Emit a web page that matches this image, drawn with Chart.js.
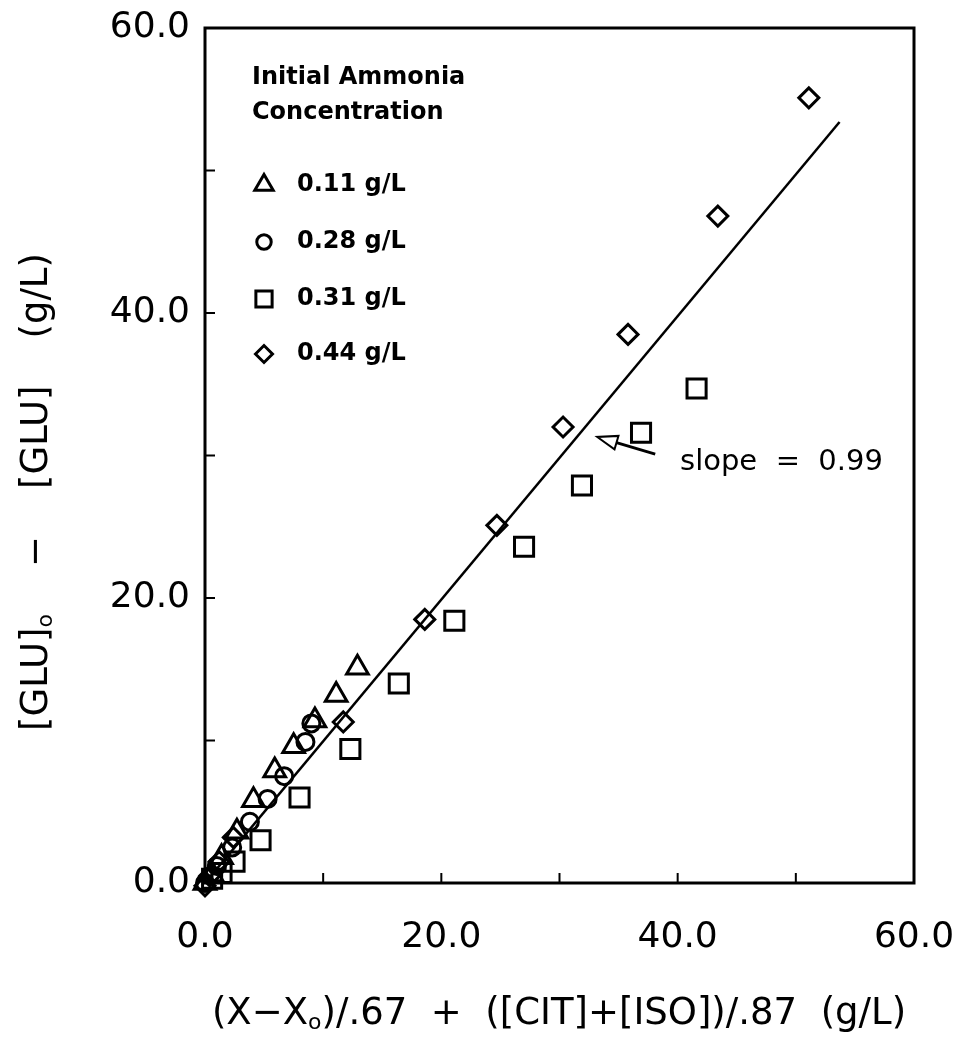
<!DOCTYPE html>
<html>
<head>
<meta charset="utf-8">
<script src="https://cdn.jsdelivr.net/npm/chart.js@4.4.1/dist/chart.umd.min.js"></script>
<style>
  html, body { margin: 0; padding: 0; background: #fff; }
  #wrap { width: 961px; height: 1047px; }
</style>
</head>
<body>
<div id="wrap"><canvas id="chart" width="961" height="1047"></canvas></div>
<script>
// legend text
const legendTitle = ["Initial Ammonia", "Concentration"];
const seriesNames = ["0.11 g/L", "0.28 g/L", "0.31 g/L", "0.44 g/L"];

// 0.11 g/L (triangles)
const triX = [12.9, 11.1, 9.3, 7.5, 5.9, 4.1, 2.7, 1.4, 0.6, 0];
const triY = [15.1, 13.2, 11.4, 9.6, 7.9, 5.8, 3.6, 1.8, 0.6, 0];

// 0.28 g/L (circles)
const cirX = [9.0, 8.5, 6.7, 5.3, 3.8, 2.3, 1.0, 0];
const cirY = [11.2, 9.9, 7.5, 5.9, 4.3, 2.5, 1.2, 0];

// 0.31 g/L (squares)
const sqX = [41.6, 36.9, 31.9, 27.0, 21.1, 16.4, 12.3, 8.0, 4.7, 2.5, 1.4, 0.6];
const sqY = [34.7, 31.6, 27.9, 23.6, 18.4, 14.0, 9.4, 6.0, 3.0, 1.5, 0.7, 0.3];

// 0.44 g/L (diamonds)
const diaX = [51.1, 43.4, 35.8, 30.3, 24.7, 18.6, 11.7, 2.4, 1.2, 0.4, 0];
const diaY = [55.1, 46.8, 38.5, 32.0, 25.1, 18.5, 11.3, 3.2, 1.5, 0.5, -0.2];

// fitted line, slope = 0.99
const fitX = [0, 53.7];
const fitY = [0, 53.4];

const xTicks = [0, 20, 40, 60];
const yTicks = [0, 20, 40, 60];
const minorTicks = [10, 20, 30, 40, 50];

const FONT = "'DejaVu Sans', sans-serif";

function pts(xs, ys) {
  return xs.map((x, i) => ({ x: x, y: ys[i] }));
}

function markerSet(label, xs, ys, style, radius) {
  return {
    type: "scatter",
    label: label,
    data: pts(xs, ys),
    pointStyle: style,
    pointRadius: radius,
    pointHoverRadius: radius,
    pointBorderWidth: 3,
    pointBorderColor: "#000",
    pointBackgroundColor: "rgba(0,0,0,0)",
    showLine: false,
    clip: false,
  };
}

const datasets = [
  markerSet(seriesNames[0], triX, triY, "triangle", 12.5),
  markerSet(seriesNames[1], cirX, cirY, "circle", 8.5),
  markerSet(seriesNames[2], sqX, sqY, "rect", 13.5),
  markerSet(seriesNames[3], diaX, diaY, "rectRot", 10),
  {
    type: "line",
    label: "fit",
    data: pts(fitX, fitY),
    borderColor: "#000",
    borderWidth: 2.5,
    pointRadius: 0,
    fill: false,
    tension: 0,
  },
];

// box, inward ticks
const framePlugin = {
  id: "frame",
  afterDraw(chart) {
    const { ctx, chartArea: a, scales } = chart;
    ctx.save();
    ctx.strokeStyle = "#000";
    ctx.lineWidth = 3;
    ctx.strokeRect(a.left, a.top, a.right - a.left, a.bottom - a.top);
    ctx.lineWidth = 2;
    ctx.beginPath();
    minorTicks.forEach((v) => {
      const px = scales.x.getPixelForValue(v);
      ctx.moveTo(px, a.bottom);
      ctx.lineTo(px, a.bottom - 10);
      const py = scales.y.getPixelForValue(v);
      ctx.moveTo(a.left, py);
      ctx.lineTo(a.left + 10, py);
    });
    ctx.stroke();
    ctx.restore();
  },
};

// legend inside plot
const legendPlugin = {
  id: "innerLegend",
  afterDraw(chart) {
    const { ctx } = chart;
    ctx.save();
    ctx.fillStyle = "#000";
    ctx.font = "bold 24px " + FONT;
    ctx.textBaseline = "middle";
    ctx.textAlign = "left";
    ctx.fillText(legendTitle[0], 252, 78);
    ctx.fillText(legendTitle[1], 252, 113);
    const rows = [185, 242, 299, 354];
    for (let i = 0; i < 4; i++) {
      const ds = chart.data.datasets[i];
      ctx.strokeStyle = "#000";
      ctx.fillStyle = "rgba(0,0,0,0)";
      ctx.lineWidth = 3;
      Chart.helpers.drawPoint(ctx, {
        pointStyle: ds.pointStyle,
        radius: ds.pointRadius * 0.85,
        rotation: 0,
        borderWidth: 3,
      }, 264, rows[i]);
      ctx.fillStyle = "#000";
      ctx.fillText(ds.label, 297, rows[i]);
    }
    ctx.restore();
  },
};

// slope note, arrow and axis titles
const notePlugin = {
  id: "notes",
  afterDraw(chart) {
    const { ctx, scales } = chart;
    const x = scales.x, y = scales.y;
    ctx.save();
    ctx.fillStyle = "#000";
    ctx.strokeStyle = "#000";

    // arrow
    const tx = x.getPixelForValue(38.1), ty = y.getPixelForValue(30.1);
    const hx = x.getPixelForValue(33.2), hy = y.getPixelForValue(31.3);
    const ang = Math.atan2(hy - ty, hx - tx);
    const bx = hx - 20 * Math.cos(ang), by = hy - 20 * Math.sin(ang);
    ctx.lineWidth = 3;
    ctx.beginPath();
    ctx.moveTo(tx, ty);
    ctx.lineTo(bx, by);
    ctx.stroke();
    ctx.lineWidth = 2;
    ctx.beginPath();
    ctx.moveTo(hx, hy);
    ctx.lineTo(bx + 7 * Math.sin(ang), by - 7 * Math.cos(ang));
    ctx.lineTo(bx - 7 * Math.sin(ang), by + 7 * Math.cos(ang));
    ctx.closePath();
    ctx.stroke();

    ctx.font = "29px " + FONT;
    ctx.textBaseline = "middle";
    ctx.textAlign = "left";
    ctx.fillText("slope  =  0.99", x.getPixelForValue(40.2), y.getPixelForValue(29.5));

    // x title with subscript
    const big = "37px " + FONT, small = "22px " + FONT;
    const xParts = [["(X\u2212X", big, 0], ["o", small, 9], [")/.67  +  ([CIT]+[ISO])/.87  (g/L)", big, 0]];
    drawParts(ctx, xParts, 559, 1014);

    // y title, rotated
    ctx.translate(37, 492);
    ctx.rotate(-Math.PI / 2);
    const yParts = [["[GLU]", big, 0], ["o", small, 9], ["    \u2212    [GLU]    (g/L)", big, 0]];
    drawParts(ctx, yParts, 0, 0);
    ctx.restore();
  },
};

function drawParts(ctx, parts, cx, cy) {
  ctx.textBaseline = "middle";
  ctx.textAlign = "left";
  let total = 0;
  parts.forEach((p) => { ctx.font = p[1]; total += ctx.measureText(p[0]).width; });
  let px = cx - total / 2;
  parts.forEach((p) => {
    ctx.font = p[1];
    ctx.fillText(p[0], px, cy + p[2]);
    px += ctx.measureText(p[0]).width;
  });
}

function tickOpts() {
  return {
    color: "#000",
    font: { family: FONT, size: 36 },
    callback: (v) => Number(v).toFixed(1),
    autoSkip: false,
    maxRotation: 0,
  };
}

function noOverflow(s) {
  s.paddingLeft = 0;
  s.paddingRight = 0;
  s.paddingTop = 0;
  s.paddingBottom = 0;
}

new Chart(document.getElementById("chart"), {
  type: "scatter",
  data: { datasets: datasets },
  options: {
    responsive: false,
    animation: false,
    devicePixelRatio: 1,
    layout: { padding: { top: 28, right: 47, left: 0, bottom: 0 } },
    plugins: {
      legend: { display: false },
      tooltip: { enabled: false },
    },
    scales: {
      x: {
        type: "linear",
        min: 0,
        max: 60,
        afterBuildTicks: (s) => { s.ticks = xTicks.map((v) => ({ value: v })); },
        afterFit: (s) => { s.height = 164; noOverflow(s); },
        ticks: Object.assign(tickOpts(), { padding: 33 }),
        grid: { display: true, drawOnChartArea: false, drawTicks: false },
        border: { display: false },
      },
      y: {
        type: "linear",
        min: 0,
        max: 60,
        afterBuildTicks: (s) => { s.ticks = yTicks.map((v) => ({ value: v })); },
        afterFit: (s) => { s.width = 205; noOverflow(s); },
        ticks: Object.assign(tickOpts(), { padding: 15 }),
        grid: { display: true, drawOnChartArea: false, drawTicks: false },
        border: { display: false },
      },
    },
  },
  plugins: [framePlugin, legendPlugin, notePlugin],
});
</script>
</body>
</html>
